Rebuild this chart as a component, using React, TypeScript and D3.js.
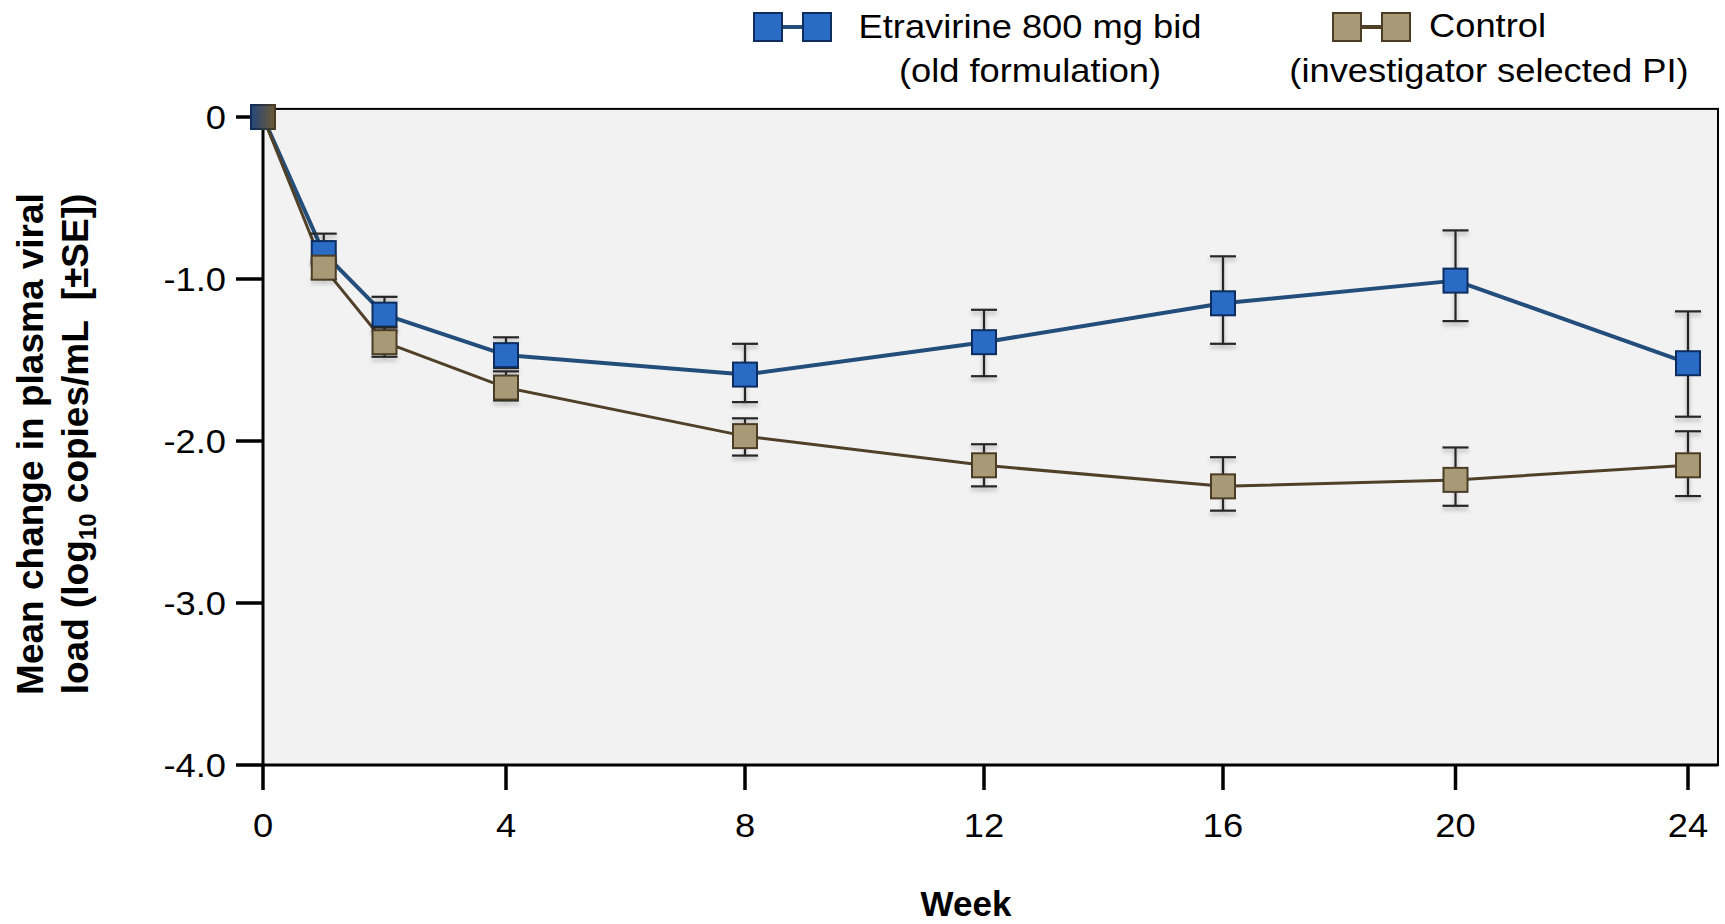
import * as d3 from "d3";

const weeks = [0, 1, 2, 4, 8, 12, 16, 20, 24];

// Etravirine 800 mg bid (old formulation)
const etrMean = [0, -0.84, -1.22, -1.47, -1.59, -1.39, -1.15, -1.01, -1.52];
const etrUpper = [null, -0.72, -1.11, -1.36, -1.4, -1.19, -0.86, -0.7, -1.2];
const etrLower = [null, -0.9, -1.32, -1.55, -1.76, -1.6, -1.4, -1.26, -1.85];

// Control (investigator selected PI)
const ctlMean = [0, -0.93, -1.39, -1.67, -1.97, -2.15, -2.28, -2.24, -2.15];
const ctlUpper = [null, -0.88, -1.3, -1.57, -1.86, -2.02, -2.1, -2.04, -1.94];
const ctlLower = [null, -1.0, -1.48, -1.75, -2.09, -2.28, -2.43, -2.4, -2.34];

const xTicks = [0, 4, 8, 12, 16, 20, 24];
const yTicks = [0, -1, -2, -3, -4];
const yTickLabels = ["0", "-1.0", "-2.0", "-3.0", "-4.0"];

const font = "'Liberation Sans', Arial, Helvetica, sans-serif";

export default function App() {
  const width = 1725;
  const height = 924;

  // the original axis is slightly uneven, so use a piecewise scale
  const x = d3.scaleLinear().domain([0, 4, 16, 24]).range([263, 506, 1223, 1688]);
  const y = d3.scaleLinear().domain([0, -4]).range([117, 765]);

  const line = d3
    .line<number>()
    .x((d, i) => x(weeks[i]))
    .y((d) => y(d));

  const series = [
    {
      name: "etr",
      mean: etrMean,
      upper: etrUpper,
      lower: etrLower,
      fill: "#2a6bc5",
      stroke: "#0c2d5e",
      lineColor: "#234d7b",
      lineWidth: 4,
    },
    {
      name: "ctl",
      mean: ctlMean,
      upper: ctlUpper,
      lower: ctlLower,
      fill: "#a99a77",
      stroke: "#4b3d25",
      lineColor: "#4f4027",
      lineWidth: 3,
    },
  ];

  const box = 24; // marker side
  const cap = 13; // half cap width
  const frameLeft = x(0);
  const frameRight = 1718;
  const frameTop = y(0.05);
  const frameBottom = y(-4);

  const sx = 1.1; // horizontal text stretch

  return (
    <svg
      width={width}
      height={height}
      style={{ position: "absolute", left: 0, top: 0, display: "block", background: "#fff" }}
      fontFamily={font}
    >
      <defs>
        <filter id="sh" x="-50%" y="-200%" width="200%" height="500%">
          <feDropShadow dx="0" dy="3" stdDeviation="2" floodColor="#000" floodOpacity="0.3" />
        </filter>
        <linearGradient id="g0" x1="0" x2="1" y1="0" y2="0">
          <stop offset="0%" stopColor="#24477a" />
          <stop offset="100%" stopColor="#6e5a38" />
        </linearGradient>
        <linearGradient id="g0s" x1="0" x2="1" y1="0" y2="0">
          <stop offset="0%" stopColor="#0c2d5e" />
          <stop offset="100%" stopColor="#4b3d25" />
        </linearGradient>
      </defs>

      {/* plot background and frame */}
      <rect
        x={frameLeft}
        y={frameTop}
        width={frameRight - frameLeft}
        height={frameBottom - frameTop}
        fill="#f2f2f2"
        stroke="#000"
        strokeWidth={2}
      />
      <line x1={frameLeft} x2={frameLeft} y1={frameTop} y2={frameBottom} stroke="#000" strokeWidth={3} />
      <line x1={frameLeft} x2={frameRight} y1={frameBottom} y2={frameBottom} stroke="#000" strokeWidth={3} />

      {/* y axis ticks */}
      {yTicks.map((t, i) => (
        <g key={"y" + t}>
          <line x1={236} x2={frameLeft} y1={y(t)} y2={y(t)} stroke="#000" strokeWidth={3.5} />
          <text
            transform={`translate(226,${y(t)}) scale(${sx},1)`}
            textAnchor="end"
            dy="0.36em"
            fontSize={33}
            fill="#000"
          >
            {yTickLabels[i]}
          </text>
        </g>
      ))}

      {/* x axis ticks */}
      {xTicks.map((t) => (
        <g key={"x" + t}>
          <line x1={x(t)} x2={x(t)} y1={frameBottom} y2={790} stroke="#000" strokeWidth={3.5} />
          <text
            transform={`translate(${x(t)},837) scale(${sx},1)`}
            textAnchor="middle"
            fontSize={33}
            fill="#000"
          >
            {t}
          </text>
        </g>
      ))}

      {/* axis titles */}
      <text x={966} y={916} textAnchor="middle" fontSize={35} fontWeight="bold" fill="#000">
        Week
      </text>
      <text
        transform="translate(43,444) rotate(-90)"
        textAnchor="middle"
        fontSize={37}
        fontWeight="bold"
        fill="#000"
      >
        Mean change in plasma viral
      </text>
      <text
        transform="translate(88,444) rotate(-90)"
        textAnchor="middle"
        fontSize={37}
        fontWeight="bold"
        fill="#000"
        style={{ whiteSpace: "pre" }}
      >
        load (log
        <tspan fontSize={24} dy={8}>
          10
        </tspan>
        <tspan dy={-8}>{" copies/mL  [±SE])"}</tspan>
      </text>

      {/* lines */}
      {series.map((s) => (
        <path
          key={s.name + "line"}
          d={line(s.mean) || ""}
          fill="none"
          stroke={s.lineColor}
          strokeWidth={s.lineWidth}
          strokeLinejoin="round"
        />
      ))}

      {/* error bars and markers */}
      {series.map((s) => (
        <g key={s.name + "pts"}>
          <g stroke="#262626" strokeWidth={2.2} filter="url(#sh)">
            {s.mean.map((m, i) =>
              s.upper[i] === null ? null : (
                <g key={i}>
                  <line x1={x(weeks[i])} x2={x(weeks[i])} y1={y(s.upper[i] as number)} y2={y(s.lower[i] as number)} />
                  <line
                    x1={x(weeks[i]) - cap}
                    x2={x(weeks[i]) + cap}
                    y1={y(s.upper[i] as number)}
                    y2={y(s.upper[i] as number)}
                  />
                  <line
                    x1={x(weeks[i]) - cap}
                    x2={x(weeks[i]) + cap}
                    y1={y(s.lower[i] as number)}
                    y2={y(s.lower[i] as number)}
                  />
                </g>
              )
            )}
          </g>
          {s.mean.map((m, i) =>
            i === 0 ? null : (
              <rect
                key={i}
                x={x(weeks[i]) - box / 2}
                y={y(m) - box / 2}
                width={box}
                height={box}
                fill={s.fill}
                stroke={s.stroke}
                strokeWidth={2}
              />
            )
          )}
        </g>
      ))}

      {/* shared baseline marker */}
      <rect
        x={x(weeks[0]) - box / 2}
        y={y(etrMean[0]) - box / 2}
        width={box}
        height={box}
        fill="url(#g0)"
        stroke="url(#g0s)"
        strokeWidth={2}
      />

      {/* legend */}
      <g>
        <line x1={768} x2={817} y1={27} y2={27} stroke={series[0].lineColor} strokeWidth={4} />
        <rect x={754} y={13} width={28} height={28} fill={series[0].fill} stroke={series[0].stroke} strokeWidth={2} />
        <rect x={803} y={13} width={28} height={28} fill={series[0].fill} stroke={series[0].stroke} strokeWidth={2} />
        <text transform={`translate(1030,38) scale(${sx},1)`} textAnchor="middle" fontSize={33} fill="#000">
          Etravirine 800 mg bid
        </text>
        <text transform={`translate(1030,82) scale(${sx},1)`} textAnchor="middle" fontSize={33} fill="#000">
          (old formulation)
        </text>

        <line x1={1347} x2={1396} y1={27} y2={27} stroke={series[1].lineColor} strokeWidth={4} />
        <rect x={1333} y={13} width={28} height={28} fill={series[1].fill} stroke={series[1].stroke} strokeWidth={2} />
        <rect x={1382} y={13} width={28} height={28} fill={series[1].fill} stroke={series[1].stroke} strokeWidth={2} />
        <text transform={`translate(1429,37) scale(${sx},1)`} textAnchor="start" fontSize={33} fill="#000">
          Control
        </text>
        <text transform={`translate(1489,82) scale(${sx},1)`} textAnchor="middle" fontSize={33} fill="#000">
          (investigator selected PI)
        </text>
      </g>
    </svg>
  );
}
